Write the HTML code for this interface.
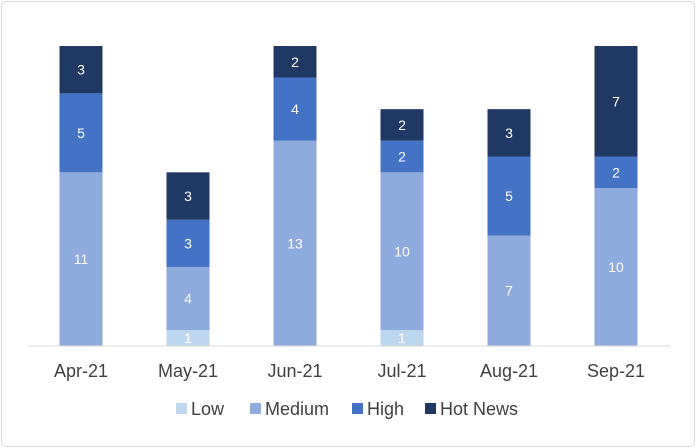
<!DOCTYPE html>
<html><head><meta charset="utf-8"><style>
body{margin:0;background:#fff;font-family:"Liberation Sans",Arial,sans-serif}
svg{display:block}
</style></head><body>
<svg id="chart" width="696" height="448">
<rect x="1.5" y="1.5" width="693" height="445" rx="4" fill="#fff" stroke="#d9d9d9"/>
<g id="bars"></g>
<line x1="28" y1="346" x2="670" y2="346" stroke="#d9d9d9" stroke-width="1"/>
<g id="xlabels"></g>
<g id="legend"></g>
</svg>
<script>
const categories=["Apr-21","May-21","Jun-21","Jul-21","Aug-21","Sep-21"];
const seriesNames=["Low","Medium","High","Hot News"];
const lowVals=[0,1,0,1,0,0];
const mediumVals=[11,4,13,10,7,10];
const highVals=[5,3,4,2,5,2];
const hotVals=[3,3,2,2,3,7];
const colors=["#bdd7ee","#8faadc","#4472c4","#203864"];
const series=[lowVals,mediumVals,highVals,hotVals];
const NS="http://www.w3.org/2000/svg";
const x0=27.5,step=107,base=346,unit=300/19,bw=43;
const xC=i=>x0+step*(i+0.5);
const yS=v=>base-v*unit;
const bars=document.getElementById('bars');
categories.forEach((c,i)=>{
  let cum=0;
  series.forEach((s,k)=>{
    const v=s[i];
    if(v<=0)return;
    const r=document.createElementNS(NS,'rect');
    r.setAttribute('x',xC(i)-bw/2);r.setAttribute('y',yS(cum+v));
    r.setAttribute('width',bw);r.setAttribute('height',yS(cum)-yS(cum+v));
    r.setAttribute('fill',colors[k]);
    
    
    bars.appendChild(r);
    const t=document.createElementNS(NS,'text');
    t.setAttribute('x',xC(i));t.setAttribute('y',(yS(cum)+yS(cum+v))/2+5);
    t.setAttribute('text-anchor','middle');t.setAttribute('font-size','14');t.setAttribute('fill','#fff');
    t.textContent=v;
    
    
    bars.appendChild(t);
    cum+=v;
  });
});
const xl=document.getElementById('xlabels');
categories.forEach((c,i)=>{
  const t=document.createElementNS(NS,'text');
  t.setAttribute('x',xC(i));t.setAttribute('y',377);t.setAttribute('text-anchor','middle');
  t.setAttribute('font-size','18');t.setAttribute('fill','#404040');t.textContent=c;
  
  
  xl.appendChild(t);
});
const lg=document.getElementById('legend');
const lx=[176,250,352,425];
seriesNames.forEach((n,k)=>{
  const g=document.createElementNS(NS,'g');
  
  
  const r=document.createElementNS(NS,'rect');
  r.setAttribute('x',lx[k]);r.setAttribute('y',403);r.setAttribute('width',11);r.setAttribute('height',11);r.setAttribute('fill',colors[k]);
  const t=document.createElementNS(NS,'text');
  t.setAttribute('x',lx[k]+15);t.setAttribute('y',415);t.setAttribute('font-size','18');t.setAttribute('fill','#404040');t.textContent=n;
  g.appendChild(r);g.appendChild(t);lg.appendChild(g);
});
</script>
</body></html>
